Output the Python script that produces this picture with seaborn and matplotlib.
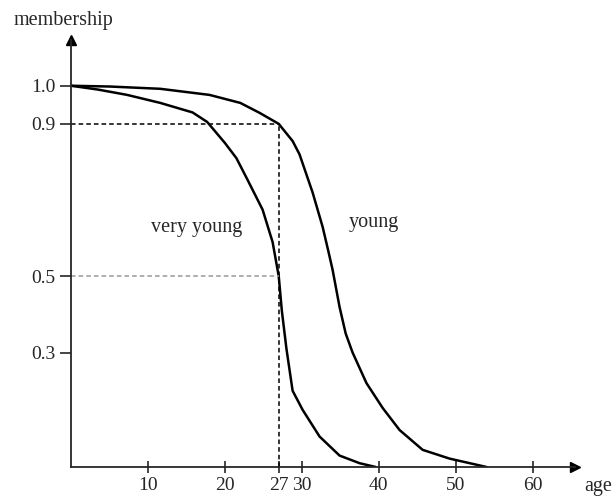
import matplotlib
matplotlib.use("Agg")
import matplotlib.pyplot as plt
import seaborn as sns
import pandas as pd

# values
young_age = [0, 5, 11.6, 18, 22, 24.5, 27, 28.8, 29.7, 31.4, 32.7, 33.4, 34.0, 34.9,
             35.7, 36.6, 38.4, 40.5, 42.7, 45.7, 49.2, 54]
young_mem = [1.0, 0.998, 0.992, 0.976, 0.955, 0.929, 0.9, 0.855, 0.82, 0.72, 0.63, 0.57, 0.517, 0.42,
             0.35, 0.30, 0.22, 0.155, 0.097, 0.045, 0.022, 0.0]

very_young_age = [0, 3.5, 7.3, 11.6, 15.8, 17.7, 20.0, 21.5, 22.9, 24.9, 26.2, 27, 27.4, 28.0,
                  28.8, 30.1, 32.3, 34.9, 37.5, 39.6]
very_young_mem = [1.0, 0.99, 0.976, 0.955, 0.93, 0.905, 0.85, 0.81, 0.755, 0.675, 0.59, 0.5, 0.41, 0.31,
                  0.2, 0.15, 0.08, 0.03, 0.01, 0.0]

x_ticks = [10, 20, 27, 30, 40, 50, 60]
y_ticks = [0.3, 0.5, 0.9, 1.0]

sns.set_style("ticks")
plt.rcParams["font.family"] = ["Liberation Serif", "DejaVu Serif"]

fig = plt.figure(figsize=(6.12, 5.01), dpi=100)
ax = fig.add_axes([71 / 612, 34 / 501, 504 / 612, 427 / 501])

df = pd.concat([
    pd.DataFrame({"age": young_age, "membership": young_mem, "set": "young"}),
    pd.DataFrame({"age": very_young_age, "membership": very_young_mem, "set": "very young"}),
])
sns.lineplot(data=df, x="age", y="membership", units="set", estimator=None,
             color="black", linewidth=1.8, sort=False, ax=ax,
             solid_joinstyle="round", solid_capstyle="round")

# guide lines
ax.plot([0, 27], [0.9, 0.9], color="black", linestyle=(0, (3, 2)), linewidth=1.1)
ax.plot([27, 27], [0, 0.9], color="black", linestyle=(0, (3, 2)), linewidth=1.1)
ax.plot([0, 27], [0.5, 0.5], color="#999999", linestyle=(0, (3, 2)), linewidth=1.1)

ax.set_xlim(0, 65.5)
ax.set_ylim(0, 1.12)
ax.set_xticks(x_ticks)
ax.set_xticklabels([str(t) for t in x_ticks])
ax.set_yticks(y_ticks)
ax.set_yticklabels([f"{t:.1f}" for t in y_ticks])
ax.tick_params(axis="x", direction="inout", length=9, width=1.2, labelsize=14, pad=3)
ax.tick_params(axis="y", direction="out", length=8, width=1.2, labelsize=14, pad=3)
ax.set_xlabel("")
ax.set_ylabel("")

sns.despine(ax=ax)
for s in ("left", "bottom"):
    ax.spines[s].set_linewidth(1.3)

# axis arrows
ax.plot(1, 0, ">k", markersize=7, transform=ax.transAxes, clip_on=False)
ax.plot(0, 1, "^k", markersize=7, transform=ax.transAxes, clip_on=False)

ax.text(16.3, 0.627, "very young", fontsize=14.5, ha="center", va="center")
ax.text(39.3, 0.64, "young", fontsize=14.5, ha="center", va="center")
fig.text(14 / 612, 1 - 20 / 501, "membership", fontsize=14.5, ha="left", va="center")
fig.text(584 / 612, 1 - 486 / 501, "age", fontsize=14.5, ha="left", va="center")

fig.savefig("out.png", dpi=100)
plt.close(fig)
